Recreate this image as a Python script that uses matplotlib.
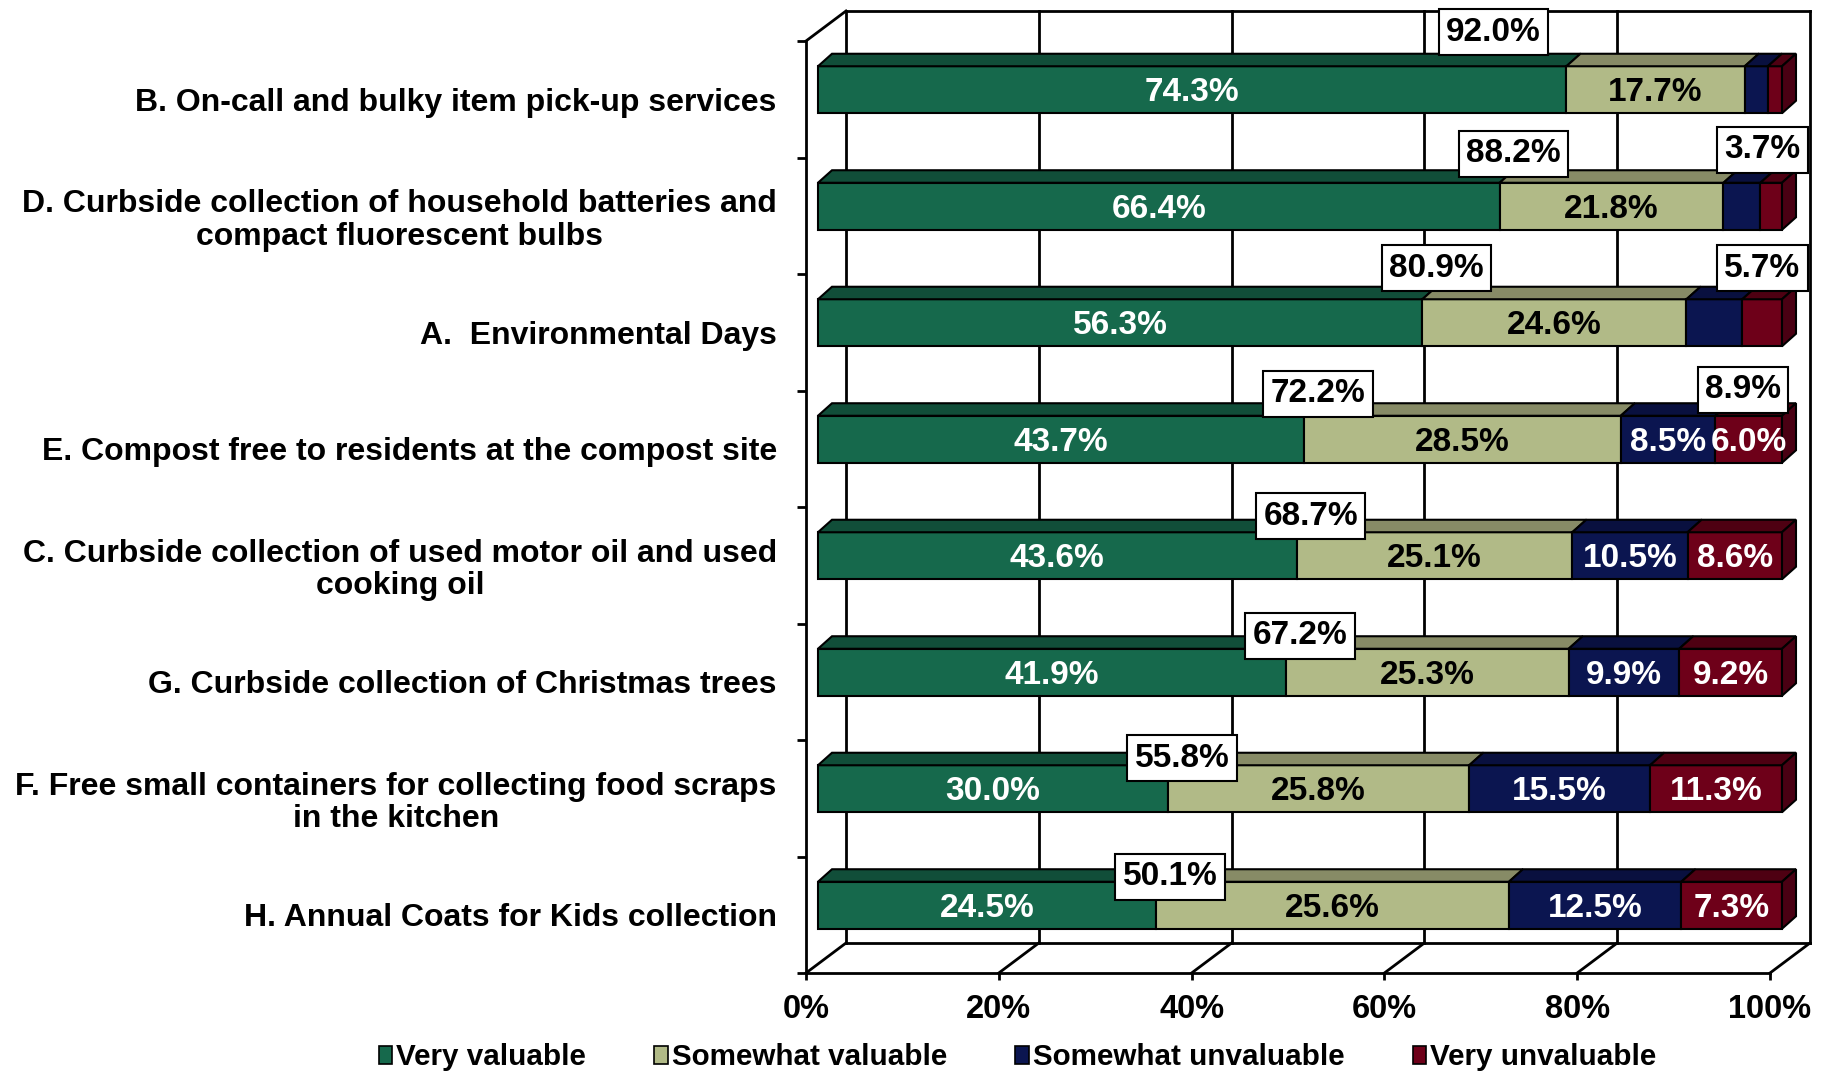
import numpy as np
import matplotlib.pyplot as plt
from matplotlib.patches import Polygon, Patch

plt.rcParams['font.family'] = ['Liberation Sans', 'DejaVu Sans']
plt.rcParams['font.weight'] = 'bold'

# services, top to bottom
categories = [
    'B. On-call and bulky item pick-up services',
    'D. Curbside collection of household batteries and\ncompact fluorescent bulbs',
    'A.  Environmental Days',
    'E. Compost free to residents at the compost site',
    'C. Curbside collection of used motor oil and used\ncooking oil',
    'G. Curbside collection of Christmas trees',
    'F. Free small containers for collecting food scraps\nin the kitchen',
    'H. Annual Coats for Kids collection',
]
very_valuable = [74.3, 66.4, 56.3, 43.7, 43.6, 41.9, 30.0, 24.5]
somewhat_valuable = [17.7, 21.8, 24.6, 28.5, 25.1, 25.3, 25.8, 25.6]
somewhat_unvaluable = [2.3, 3.6, 5.2, 8.5, 10.5, 9.9, 15.5, 12.5]
very_unvaluable = [1.4, 2.1, 3.7, 6.0, 8.6, 9.2, 11.3, 7.3]

series_names = ['Very valuable', 'Somewhat valuable', 'Somewhat unvaluable', 'Very unvaluable']
front_colors = ['#16694C', '#B1BA87', '#0B1550', '#6E0019']
top_colors = ['#114E39', '#878B66', '#09103F', '#4E0012']
side_color = '#4A0013'
text_colors = ['white', 'black', 'white', 'white']
tick_labels = ['0%', '20%', '40%', '60%', '80%', '100%']

values = np.array([very_valuable, somewhat_valuable, somewhat_unvaluable, very_unvaluable])
valuable_total = values[0] + values[1]
unvaluable_total = values[2] + values[3]
shares = values / values.sum(axis=0) * 100   # 100% stacked
starts = np.vstack([np.zeros(len(categories)), np.cumsum(shares, axis=0)[:-1]])

fig = plt.figure(figsize=(18.27, 10.71), dpi=100)
ax = fig.add_axes([806 / 1827, (1071 - 973) / 1071, 964 / 1827, 932 / 1071])
ax.set_xlim(0, 100)
ax.set_ylim(7.5, -0.5)

# pixel -> data unit helpers
def px_x(p):
    return p / 9.64

def px_y(p):
    return p / 116.5

# back wall, floor and gridlines (oblique depth)
wx, wy = px_x(40), px_y(30)
ytop, ybot = -0.5, 7.5
for v in range(0, 101, 20):
    ax.plot([v + wx, v + wx], [ytop - wy, ybot - wy], color='black', lw=2, clip_on=False, zorder=1)
    ax.plot([v, v + wx], [ybot, ybot - wy], color='black', lw=2, clip_on=False, zorder=1)
ax.plot([wx, 100 + wx], [ytop - wy, ytop - wy], color='black', lw=2, clip_on=False, zorder=1)
ax.plot([wx, 100 + wx], [ybot - wy, ybot - wy], color='black', lw=2, clip_on=False, zorder=1)
ax.plot([0, wx], [ytop, ytop - wy], color='black', lw=2, clip_on=False, zorder=1)

# 3D bars
fx, fy = px_x(12), px_y(9.5)
bx, by = px_x(14), px_y(12.5)
bh = px_y(47)
yc = np.arange(len(categories)) - fy
for s in range(4):
    left = starts[s] + fx
    ax.barh(yc, shares[s], left=left, height=bh, color=front_colors[s],
            edgecolor='black', linewidth=1.5, zorder=3, clip_on=False)
    for i in range(len(categories)):
        x0, x1 = left[i], left[i] + shares[s][i]
        yt, yb = yc[i] - bh / 2, yc[i] + bh / 2
        ax.add_patch(Polygon([(x0, yt), (x1, yt), (x1 + bx, yt - by), (x0 + bx, yt - by)],
                             closed=True, facecolor=top_colors[s], edgecolor='black',
                             linewidth=1.5, zorder=3, clip_on=False))
        if s == 3:
            ax.add_patch(Polygon([(x1, yt), (x1 + bx, yt - by), (x1 + bx, yb - by), (x1, yb)],
                                 closed=True, facecolor=side_color, edgecolor='black',
                                 linewidth=1.5, zorder=3, clip_on=False))
        if shares[s][i] > 6.5:
            ax.text(x0 + shares[s][i] / 2, yc[i] + px_y(3), f'{values[s][i]:.1f}%',
                    ha='center', va='center', fontsize=24, color=text_colors[s], zorder=5)

# boxed totals above the bars
box = dict(boxstyle='square,pad=0.22', facecolor='white', edgecolor='black', linewidth=1.5)
valuable_nudge = [-9.0, 0, 0, 0, 0, 0, 0, 0]
valuable_dy = [67, 62, 64, 55, 49, 46, 40, 38]
for i in range(len(categories)):
    xb = shares[0][i] + fx + bx + valuable_nudge[i]
    ax.text(xb, i - px_y(valuable_dy[i]), f'{valuable_total[i]:.1f}%', ha='center', va='center',
            fontsize=24, color='black', bbox=box, zorder=6, clip_on=False)

# unvaluable totals, printed one row lower
unval_x = [99.2, 99.2, 97.2]
unval_dy = [66, 64, 59]
for k in range(3):
    ax.text(unval_x[k], k + 1 - px_y(unval_dy[k]), f'{unvaluable_total[k]:.1f}%', ha='center',
            va='center', fontsize=24, color='black', bbox=box, zorder=6, clip_on=False)

# axes, ticks and labels
for side in ['top', 'right']:
    ax.spines[side].set_visible(False)
for side in ['left', 'bottom']:
    ax.spines[side].set_linewidth(2)
    ax.spines[side].set_zorder(2)
ax.set_xticks(np.arange(0, 101, 20))
ax.set_xticklabels(tick_labels, fontsize=23.5)
ax.tick_params(axis='x', length=5, width=2, pad=10)
ax.set_yticks(np.arange(len(categories)))
ax.set_yticklabels(categories, fontsize=23)
for lab in ax.get_yticklabels():
    lab.set_multialignment('center')
    lab.set_linespacing(1.1)
ax.tick_params(axis='y', which='major', length=0, pad=21)
ax.set_yticks(np.arange(-0.5, len(categories)), minor=True)
ax.tick_params(axis='y', which='minor', length=6.5, width=2)
ax.patch.set_alpha(0)

handles = [Patch(facecolor=c, edgecolor='black', linewidth=1.2) for c in front_colors]
fig.legend(handles, series_names, loc='center', bbox_to_anchor=(0.557, 0.013), ncol=4,
           frameon=False, fontsize=21.3, handlelength=0.45, handleheight=0.55,
           handletextpad=0.15, columnspacing=2.3)

fig.savefig('out.png', dpi=100)
